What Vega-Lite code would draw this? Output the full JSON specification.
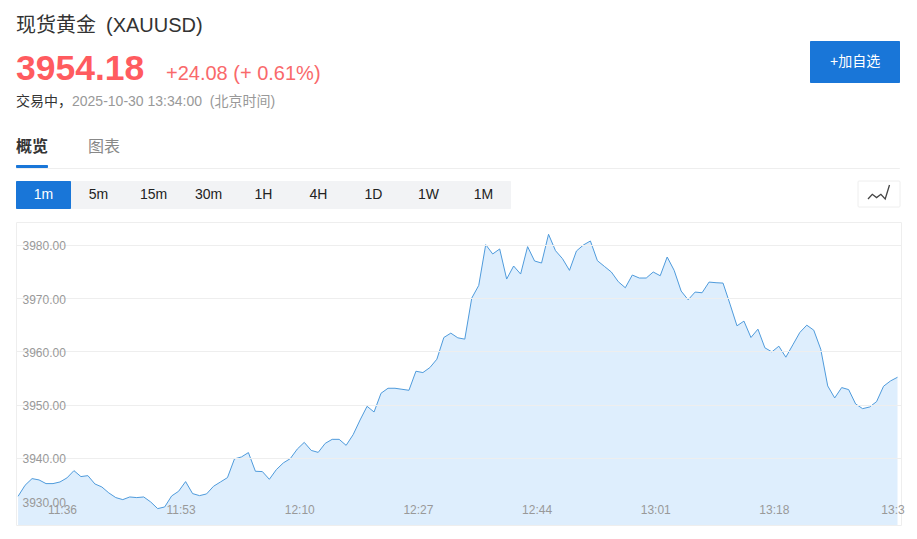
{"$schema":"https://vega.github.io/schema/vega-lite/v6.json","background":"white","padding":{"left":15,"right":16,"top":0,"bottom":15},"spacing":0,"config":{"font":"Liberation Sans, Noto Sans CJK SC","text":{"font":"Liberation Sans, Noto Sans CJK SC"},"concat":{"spacing":0}},"vconcat":[{"width":885,"height":221,"view":{"stroke":null},"resolve":{"scale":{"x":"independent","y":"independent","color":"independent","size":"independent"}},"layer":[{"data":{"values":[{"name":"add","a":4,"b":6,"c":0,"d":1},{"name":"hr","a":0,"b":6,"c":3,"d":4},{"name":"underline","a":0,"b":1,"c":2,"d":3},{"name":"bar","a":0,"b":3,"c":5,"d":7},{"name":"selected","a":0,"b":2,"c":5,"d":7},{"name":"iconbox","a":5,"b":6,"c":5,"d":6}]},"mark":{"type":"rect","cornerRadius":1},"encoding":{"x":{"field":"a","type":"quantitative","axis":null,"scale":{"domain":[0,1,2,3,4,5,6],"range":[0,32,55,495,794,842,884]}},"x2":{"field":"b"},"y":{"field":"c","type":"quantitative","axis":null,"scale":{"domain":[0,1,2,3,4,5,6,7],"range":[41,83,165,168,169,181,207,209]}},"y2":{"field":"d"},"color":{"field":"name","type":"nominal","legend":null,"scale":{"domain":["add","hr","underline","bar","selected","iconbox"],"range":["#1976d8","#eeeeee","#1976d8","#f2f3f5","#1976d8","#ffffff"]}},"stroke":{"field":"name","type":"nominal","legend":null,"scale":{"domain":["add","hr","underline","bar","selected","iconbox"],"range":["transparent","transparent","transparent","transparent","transparent","#eeeeee"]}}}},{"data":{"values":[{"a":0,"b":0},{"a":1,"b":1},{"a":2,"b":0.3},{"a":3,"b":1},{"a":4,"b":0},{"a":5,"b":3}]},"mark":{"type":"line","color":"#444444","strokeWidth":1.3},"encoding":{"x":{"field":"a","type":"quantitative","axis":null,"scale":{"domain":[0,5],"range":[852,873.5]}},"y":{"field":"b","type":"quantitative","axis":null,"scale":{"domain":[0,3],"range":[199,185]}}}},{"data":{"values":[{"text":"现货黄金","kind":"title","col":0,"row":0},{"text":"(XAUUSD)","kind":"title","col":3,"row":0},{"text":"+24.08 (+ 0.61%)","kind":"change","col":4,"row":3},{"text":"交易中，","kind":"status","col":0,"row":4},{"text":"2025-10-30 13:34:00 \u00a0(北京时间)","kind":"time","col":1,"row":4},{"text":"图表","kind":"tab","col":2,"row":5},{"text":"+加自选","kind":"add","col":5,"row":1}]},"mark":{"type":"text","align":"left","baseline":"middle"},"encoding":{"text":{"field":"text"},"x":{"field":"col","type":"quantitative","axis":null,"scale":{"domain":[0,1,2,3,4,5],"range":[0,56,72,90,150,814]}},"y":{"field":"row","type":"quantitative","axis":null,"scale":{"domain":[0,1,2,3,4,5],"range":[26,62,69,74,102,147]}},"color":{"field":"kind","type":"nominal","legend":null,"scale":{"domain":["title","change","status","time","tab","add"],"range":["#333333","#f9696b","#333333","#999999","#888888","#ffffff"]}},"size":{"field":"kind","type":"nominal","legend":null,"scale":{"type":"ordinal","domain":["title","change","status","time","tab","add"],"range":[20,20,14,14,16,14]}}}},{"data":{"values":[{"text":"3954.18","kind":"price","col":0,"row":2},{"text":"概览","kind":"active","col":0,"row":5}]},"mark":{"type":"text","align":"left","baseline":"middle","fontWeight":"bold"},"encoding":{"text":{"field":"text"},"x":{"field":"col","type":"quantitative","axis":null,"scale":{"domain":[0,1],"range":[0,56]}},"y":{"field":"row","type":"quantitative","axis":null,"scale":{"domain":[0,1,2,3,4,5],"range":[26,62,69,74,102,147]}},"color":{"field":"kind","type":"nominal","legend":null,"scale":{"domain":["price","active"],"range":["#ff5b5f","#333333"]}},"size":{"field":"kind","type":"nominal","legend":null,"scale":{"type":"ordinal","domain":["price","active"],"range":[35.5,16]}}}},{"data":{"values":[{"label":"1m","state":"on"},{"label":"5m","state":"off"},{"label":"15m","state":"off"},{"label":"30m","state":"off"},{"label":"1H","state":"off"},{"label":"4H","state":"off"},{"label":"1D","state":"off"},{"label":"1W","state":"off"},{"label":"1M","state":"off"}]},"mark":{"type":"text","align":"center","baseline":"middle","fontSize":14},"encoding":{"text":{"field":"label"},"x":{"field":"label","type":"nominal","sort":null,"axis":null,"scale":{"type":"band","domain":["1m","5m","15m","30m","1H","4H","1D","1W","1M"],"range":[0,495],"padding":0}},"y":{"field":"state","type":"nominal","axis":null,"scale":{"type":"point","domain":["on","off"],"range":[195,195]}},"color":{"field":"state","type":"nominal","legend":null,"scale":{"domain":["on","off"],"range":["#ffffff","#222222"]}}}}]},{"width":885,"height":303,"view":{"stroke":"#eeeeee"},"data":{"values":[{"t":"2025-10-30T11:30:00Z","p":3932.77},{"t":"2025-10-30T11:31:00Z","p":3934.84},{"t":"2025-10-30T11:32:00Z","p":3936.09},{"t":"2025-10-30T11:33:00Z","p":3935.84},{"t":"2025-10-30T11:34:00Z","p":3935.15},{"t":"2025-10-30T11:35:00Z","p":3935.15},{"t":"2025-10-30T11:36:00Z","p":3935.46},{"t":"2025-10-30T11:37:00Z","p":3936.22},{"t":"2025-10-30T11:38:00Z","p":3937.59},{"t":"2025-10-30T11:39:00Z","p":3936.47},{"t":"2025-10-30T11:40:00Z","p":3936.65},{"t":"2025-10-30T11:41:00Z","p":3935.09},{"t":"2025-10-30T11:42:00Z","p":3934.52},{"t":"2025-10-30T11:43:00Z","p":3933.4},{"t":"2025-10-30T11:44:00Z","p":3932.52},{"t":"2025-10-30T11:45:00Z","p":3932.14},{"t":"2025-10-30T11:46:00Z","p":3932.64},{"t":"2025-10-30T11:47:00Z","p":3932.52},{"t":"2025-10-30T11:48:00Z","p":3932.64},{"t":"2025-10-30T11:49:00Z","p":3931.7},{"t":"2025-10-30T11:50:00Z","p":3930.45},{"t":"2025-10-30T11:51:00Z","p":3930.76},{"t":"2025-10-30T11:52:00Z","p":3932.83},{"t":"2025-10-30T11:53:00Z","p":3933.71},{"t":"2025-10-30T11:54:00Z","p":3935.53},{"t":"2025-10-30T11:55:00Z","p":3933.27},{"t":"2025-10-30T11:56:00Z","p":3932.89},{"t":"2025-10-30T11:57:00Z","p":3933.21},{"t":"2025-10-30T11:58:00Z","p":3934.65},{"t":"2025-10-30T11:59:00Z","p":3935.46},{"t":"2025-10-30T12:00:00Z","p":3936.28},{"t":"2025-10-30T12:01:00Z","p":3939.79},{"t":"2025-10-30T12:02:00Z","p":3940.16},{"t":"2025-10-30T12:03:00Z","p":3940.98},{"t":"2025-10-30T12:04:00Z","p":3937.47},{"t":"2025-10-30T12:05:00Z","p":3937.41},{"t":"2025-10-30T12:06:00Z","p":3935.96},{"t":"2025-10-30T12:07:00Z","p":3937.78},{"t":"2025-10-30T12:08:00Z","p":3939.04},{"t":"2025-10-30T12:09:00Z","p":3939.85},{"t":"2025-10-30T12:10:00Z","p":3941.64},{"t":"2025-10-30T12:11:00Z","p":3942.9},{"t":"2025-10-30T12:12:00Z","p":3941.39},{"t":"2025-10-30T12:13:00Z","p":3941.02},{"t":"2025-10-30T12:14:00Z","p":3942.71},{"t":"2025-10-30T12:15:00Z","p":3943.47},{"t":"2025-10-30T12:16:00Z","p":3943.47},{"t":"2025-10-30T12:17:00Z","p":3942.34},{"t":"2025-10-30T12:18:00Z","p":3944.34},{"t":"2025-10-30T12:19:00Z","p":3947.11},{"t":"2025-10-30T12:20:00Z","p":3949.68},{"t":"2025-10-30T12:21:00Z","p":3948.61},{"t":"2025-10-30T12:22:00Z","p":3952.13},{"t":"2025-10-30T12:23:00Z","p":3953.07},{"t":"2025-10-30T12:24:00Z","p":3953.07},{"t":"2025-10-30T12:25:00Z","p":3952.88},{"t":"2025-10-30T12:26:00Z","p":3952.69},{"t":"2025-10-30T12:27:00Z","p":3956.27},{"t":"2025-10-30T12:28:00Z","p":3956.02},{"t":"2025-10-30T12:29:00Z","p":3956.96},{"t":"2025-10-30T12:30:00Z","p":3958.53},{"t":"2025-10-30T12:31:00Z","p":3962.61},{"t":"2025-10-30T12:32:00Z","p":3963.43},{"t":"2025-10-30T12:33:00Z","p":3962.55},{"t":"2025-10-30T12:34:00Z","p":3962.3},{"t":"2025-10-30T12:35:00Z","p":3970.02},{"t":"2025-10-30T12:36:00Z","p":3972.4},{"t":"2025-10-30T12:37:00Z","p":3980.06},{"t":"2025-10-30T12:38:00Z","p":3978.31},{"t":"2025-10-30T12:39:00Z","p":3979.25},{"t":"2025-10-30T12:40:00Z","p":3973.6},{"t":"2025-10-30T12:41:00Z","p":3976.05},{"t":"2025-10-30T12:42:00Z","p":3974.54},{"t":"2025-10-30T12:43:00Z","p":3979.69},{"t":"2025-10-30T12:44:00Z","p":3976.99},{"t":"2025-10-30T12:45:00Z","p":3976.61},{"t":"2025-10-30T12:46:00Z","p":3982.01},{"t":"2025-10-30T12:47:00Z","p":3978.93},{"t":"2025-10-30T12:48:00Z","p":3977.43},{"t":"2025-10-30T12:49:00Z","p":3975.23},{"t":"2025-10-30T12:50:00Z","p":3978.87},{"t":"2025-10-30T12:51:00Z","p":3980.0},{"t":"2025-10-30T12:52:00Z","p":3980.75},{"t":"2025-10-30T12:53:00Z","p":3977.05},{"t":"2025-10-30T12:54:00Z","p":3975.98},{"t":"2025-10-30T12:55:00Z","p":3974.92},{"t":"2025-10-30T12:56:00Z","p":3973.09},{"t":"2025-10-30T12:57:00Z","p":3971.96},{"t":"2025-10-30T12:58:00Z","p":3974.35},{"t":"2025-10-30T12:59:00Z","p":3973.79},{"t":"2025-10-30T13:00:00Z","p":3973.79},{"t":"2025-10-30T13:01:00Z","p":3974.92},{"t":"2025-10-30T13:02:00Z","p":3974.22},{"t":"2025-10-30T13:03:00Z","p":3977.74},{"t":"2025-10-30T13:04:00Z","p":3975.23},{"t":"2025-10-30T13:05:00Z","p":3971.34},{"t":"2025-10-30T13:06:00Z","p":3969.7},{"t":"2025-10-30T13:07:00Z","p":3971.15},{"t":"2025-10-30T13:08:00Z","p":3971.02},{"t":"2025-10-30T13:09:00Z","p":3973.03},{"t":"2025-10-30T13:10:00Z","p":3972.91},{"t":"2025-10-30T13:11:00Z","p":3972.84},{"t":"2025-10-30T13:12:00Z","p":3968.89},{"t":"2025-10-30T13:13:00Z","p":3964.81},{"t":"2025-10-30T13:14:00Z","p":3965.69},{"t":"2025-10-30T13:15:00Z","p":3962.61},{"t":"2025-10-30T13:16:00Z","p":3964.18},{"t":"2025-10-30T13:17:00Z","p":3960.67},{"t":"2025-10-30T13:18:00Z","p":3959.91},{"t":"2025-10-30T13:19:00Z","p":3960.98},{"t":"2025-10-30T13:20:00Z","p":3958.91},{"t":"2025-10-30T13:21:00Z","p":3961.23},{"t":"2025-10-30T13:22:00Z","p":3963.55},{"t":"2025-10-30T13:23:00Z","p":3964.93},{"t":"2025-10-30T13:24:00Z","p":3963.99},{"t":"2025-10-30T13:25:00Z","p":3960.41},{"t":"2025-10-30T13:26:00Z","p":3953.51},{"t":"2025-10-30T13:27:00Z","p":3951.25},{"t":"2025-10-30T13:28:00Z","p":3953.2},{"t":"2025-10-30T13:29:00Z","p":3952.82},{"t":"2025-10-30T13:30:00Z","p":3950.12},{"t":"2025-10-30T13:31:00Z","p":3949.24},{"t":"2025-10-30T13:32:00Z","p":3949.55},{"t":"2025-10-30T13:33:00Z","p":3950.56},{"t":"2025-10-30T13:34:00Z","p":3953.45},{"t":"2025-10-30T13:35:00Z","p":3954.45},{"t":"2025-10-30T13:36:00Z","p":3955.14}]},"mark":{"type":"area","color":"#deeefd","opacity":1,"clip":true,"line":{"color":"#4f9bdc","strokeWidth":1}},"encoding":{"x":{"field":"t","type":"temporal","title":null,"scale":{"type":"utc","domain":["2025-10-30T11:29:42Z","2025-10-30T13:36:30Z"]},"axis":{"values":["2025-10-30T11:36:00Z","2025-10-30T11:53:00Z","2025-10-30T12:10:00Z","2025-10-30T12:27:00Z","2025-10-30T12:44:00Z","2025-10-30T13:01:00Z","2025-10-30T13:18:00Z","2025-10-30T13:35:00Z"],"format":"%H:%M","labelExpr":"datum.label == '13:35' ? '13:3' : datum.label","grid":false,"domain":false,"ticks":false,"labelPadding":-16,"labelBaseline":"middle","labelColor":"#999999","labelFontSize":12,"labelOffset":2,"labelOverlap":false,"labelFlush":false,"zindex":1}},"y":{"field":"p","type":"quantitative","title":null,"scale":{"zero":false,"nice":false,"domain":[3927.37,3984.32]},"axis":{"values":[3930,3940,3950,3960,3970,3980],"format":".2f","domain":false,"ticks":false,"labelAlign":"left","labelPadding":-6,"labelColor":"#999999","labelFontSize":12,"labelOffset":{"condition":{"test":"datum.value == 3930","value":-9},"value":1},"gridColor":"#eeeeee","gridOpacity":{"condition":{"test":"datum.value == 3930","value":0},"value":1},"zindex":1}}}}]}
